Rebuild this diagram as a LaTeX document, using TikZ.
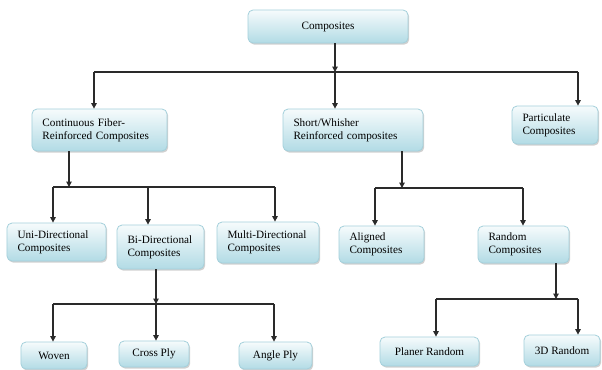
\documentclass[tikz,border=0pt]{standalone}
\usepackage{fontspec}
\setmainfont{Liberation Serif}
\usetikzlibrary{arrows.meta,shadows}
\definecolor{boxtop}{HTML}{F6FBFC}
\definecolor{boxbot}{HTML}{B2DBE5}
\definecolor{boxedge}{HTML}{A4D0DB}
\definecolor{linec}{HTML}{2A2A2A}
\tikzset{
  box/.style={draw=boxedge, line width=0.8bp, rounded corners=5bp,
    top color=boxtop, bottom color=boxbot, inner sep=0pt,
    font=\fontsize{11.2bp}{13bp}\selectfont,
    drop shadow={shadow xshift=1.2bp, shadow yshift=-1.6bp, opacity=0.3, fill=black!60}},
  conn/.style={draw=linec, line width=1.1bp},
  arr/.style={conn, -{Triangle[length=5.5bp,width=5.5bp]}}
}
\newcommand\mybox[7]{%
  \pgfmathsetmacro\bw{#4-#2}\pgfmathsetmacro\bh{#5-#3}\pgfmathsetmacro\tw{#4-#2-21}%
  \node[box, minimum width=\bw bp, minimum height=\bh bp, #6] (#1) at ({(#2+#4)/2},{(#3+#5)/2}) {#7};}
\begin{document}
\begin{tikzpicture}[x=1bp,y=-1bp]
\clip (0,0) rectangle (602,369);
\fill[white] (0,0) rectangle (602,369);
% boxes
\mybox{comp}{248}{10}{408}{43}{align=center}{Composites}
\mybox{cfr}{32}{109}{167}{151}{text width=\tw bp,align=left}{Continuous Fiber-\\Reinforced Composites}
\mybox{swr}{283}{109}{423}{151}{text width=\tw bp,align=left}{Short/Whisher\\Reinforced composites}
\mybox{part}{512}{106}{598}{144}{text width=\tw bp,align=left}{Particulate\\Composites}
\mybox{uni}{7}{223}{106}{261}{text width=\tw bp,align=left}{Uni-Directional\\Composites}
\mybox{bi}{117}{225}{204}{269}{text width=\tw bp,align=left}{\mbox{Bi-Directional}\\Composites}
\mybox{multi}{217}{222}{319}{263}{text width=\tw bp,align=left}{Multi-Directional\\Composites}
\mybox{ali}{339}{226}{424}{263}{text width=\tw bp,align=left}{Aligned\\Composites}
\mybox{rand}{478}{226}{569}{263}{text width=\tw bp,align=left}{Random\\Composites}
\mybox{woven}{21}{342}{87}{369}{align=center}{Woven}
\mybox{cross}{119}{341}{189}{367}{align=center}{Cross Ply}
\mybox{angle}{239}{342}{312}{369}{align=center}{Angle Ply}
\mybox{planer}{380}{337}{479}{366}{align=center}{Planer Random}
\mybox{threed}{524}{335}{600}{366}{align=center}{3D Random}
% junction coordinates
\coordinate (j1) at (335,72);
\coordinate (h1l) at (94,72);
\coordinate (h1r) at (578,72);
\coordinate (j2) at (69,187);
\coordinate (h2l) at (53,187);
\coordinate (h2m) at (148,187);
\coordinate (h2r) at (275,187);
\coordinate (j3) at (402,188);
\coordinate (h3l) at (375,188);
\coordinate (h3r) at (523,188);
\coordinate (j4) at (156,304);
\coordinate (h4l) at (53,304);
\coordinate (h4r) at (274,304);
\coordinate (j5) at (556,299);
\coordinate (h5l) at (436,299);
\coordinate (h5r) at (578,299);
% level 1
\draw[arr] (comp.south -| j1) -- (j1);
\draw[conn] (h1l) -- (h1r);
\draw[arr] (h1l) -- (cfr.north -| h1l);
\draw[arr] (j1) -- (swr.north -| j1);
\draw[arr] (h1r) -- (part.north -| h1r);
% continuous fiber
\draw[arr] (cfr.south -| j2) -- (j2);
\draw[conn] (h2l) -- (h2r);
\draw[arr] (h2l) -- (uni.north -| h2l);
\draw[arr] (h2m) -- (bi.north -| h2m);
\draw[arr] (h2r) -- (multi.north -| h2r);
% short whisker
\draw[arr] (swr.south -| j3) -- (j3);
\draw[conn] (h3l) -- (h3r);
\draw[arr] (h3l) -- (ali.north -| h3l);
\draw[arr] (h3r) -- (rand.north -| h3r);
% bi-directional
\draw[arr] (bi.south -| j4) -- (j4);
\draw[conn] (h4l) -- (h4r);
\draw[arr] (h4l) -- (woven.north -| h4l);
\draw[arr] (j4) -- (cross.north -| j4);
\draw[arr] (h4r) -- (angle.north -| h4r);
% random
\draw[arr] (rand.south -| j5) -- (j5);
\draw[conn] (h5l) -- (h5r);
\draw[arr] (h5l) -- (planer.north -| h5l);
\draw[arr] (h5r) -- (threed.north -| h5r);
\end{tikzpicture}
\end{document}
